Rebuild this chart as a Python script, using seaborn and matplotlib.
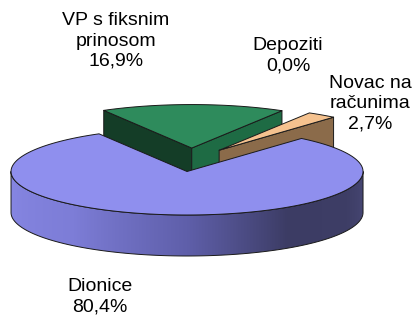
import numpy as np
import matplotlib
matplotlib.use("Agg")
import matplotlib.pyplot as plt
from matplotlib.patches import Polygon
import seaborn as sns

# ---- data ----
categories = ["VP s fiksnim\nprinosom", "Depoziti", "Novac na\nračunima", "Dionice"]
values = [16.9, 0.0, 2.7, 80.4]
value_labels = ["16,9%", "0,0%", "2,7%", "80,4%"]

# ---- style ----
sns.set_theme(style="white")
plt.rcParams['font.family'] = ['Liberation Sans', 'DejaVu Sans']

top_colors = ["#2E8B5C", "#E8E8E8", "#F5C28F", "#8F8FEE"]
left_face_colors = ["#143D27", "#BBBBBB", "#6E5236", "#5A5AA0"]
right_face_colors = ["#1E6B44", "#BBBBBB", "#8B6B4A", "#5A5AA0"]

fig = plt.figure(figsize=(4.12, 3.17), dpi=100)
ax = fig.add_axes([0, 0, 1, 1])
ax.set_xlim(0, 412)
ax.set_ylim(317, 0)
ax.axis("off")

# pie geometry (pixel layout)
bx, by = 191.4, 159.8     # base centre of top face
rx, ry = 176.0, 43.5      # ellipse radii
H = 41.0                  # thickness
explode = 0.27
start = 120.0             # degrees, clockwise


def pt(c, t, z=0.0):
    r = np.radians(t)
    return (c[0] + rx * np.cos(r), c[1] - ry * np.sin(r) + z)


def arc(c, t1, t2, z=0.0, n=200):
    ts = np.linspace(t1, t2, n)
    return [pt(c, t, z) for t in ts]


edge_kw = dict(edgecolor="#1a1a1a", linewidth=0.7, joinstyle="round")

total = sum(values)
angles = []
cum = start
for v in values:
    span = v / total * 360.0
    angles.append((cum, cum - span))
    cum -= span

centers = []
for (t1, t2) in angles:
    mid = np.radians((t1 + t2) / 2)
    centers.append((bx + explode * rx * np.cos(mid), by - explode * ry * np.sin(mid)))

wall_keys_t = [180, 230, 270, 305, 335, 360]
wall_keys_c = [(135, 135, 228), (125, 125, 215), (95, 95, 170),
               (60, 60, 100), (62, 62, 102), (72, 72, 118)]


def wall_color(t):
    return np.array([np.interp(t, wall_keys_t, [k[i] for k in wall_keys_c]) for i in range(3)]) / 255


for i in range(len(values)):   # back to front
    t1, t2 = angles[i]
    if t1 - t2 <= 0:
        continue
    c = centers[i]
    # outer wall (front-facing part)
    lo, hi = t2, t1
    for k in range(-1, 2):
        a, b = 180 + 360 * k, 360 + 360 * k
        s, e = max(lo, a), min(hi, b)
        if e <= s:
            continue
        outline = arc(c, s, e, H) + arc(c, e, s, 0)
        wall = Polygon(outline, closed=True, facecolor="none", edgecolor="none")
        ax.add_patch(wall)
        # horizontal gradient image
        xs = np.arange(int(c[0] - rx) - 2, int(c[0] + rx) + 3)
        cosv = np.clip((xs + 0.5 - c[0]) / rx, -1, 1)
        tt = 360 - np.degrees(np.arccos(cosv))   # front half angle
        cols = np.array([wall_color(t) for t in tt])
        img = np.tile(cols[None, :, :], (4, 1, 1))
        ys = [p[1] for p in outline]
        im = ax.imshow(img, extent=(xs[0], xs[-1] + 1, max(ys) + 1, min(ys) - 1),
                       aspect="auto", interpolation="bilinear", zorder=1)
        im.set_clip_path(wall)
        ax.add_patch(Polygon(outline, closed=True, facecolor="none", zorder=1.5, **edge_kw))
    # cut faces (visible ones)
    if np.sin(np.radians(t1 + 90)) < 0:
        poly = [c, pt(c, t1), pt(c, t1, H), (c[0], c[1] + H)]
        ax.add_patch(Polygon(poly, closed=True, facecolor=left_face_colors[i], zorder=1, **edge_kw))
    if np.sin(np.radians(t2 - 90)) < 0:
        poly = [c, pt(c, t2), pt(c, t2, H), (c[0], c[1] + H)]
        ax.add_patch(Polygon(poly, closed=True, facecolor=right_face_colors[i], zorder=1, **edge_kw))
    # top face
    top = [c] + arc(c, t1, t2)
    ax.add_patch(Polygon(top, closed=True, facecolor=top_colors[i], zorder=1.6 + 0.01 * i, **edge_kw))

ax.set_xlim(0, 412)
ax.set_ylim(317, 0)

# ---- labels ----
label_pos = [(116, 41), (288, 56), (370, 104), (100, 297)]
for cat, lab, (x, y) in zip(categories, value_labels, label_pos):
    ax.text(x, y, f"{cat}\n{lab}", ha="center", va="center", fontsize=14,
            color="black", linespacing=1.25, zorder=5)

fig.savefig("out.png", dpi=100)
